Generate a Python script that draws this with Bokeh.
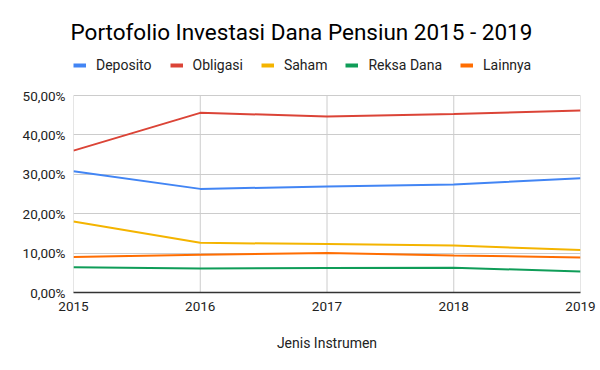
from bokeh.plotting import figure
from bokeh.models import (Range1d, FixedTicker, CustomJSTickFormatter, Legend, LegendItem, Title)
from bokeh.embed import file_html
from bokeh.resources import INLINE

years = [2015, 2016, 2017, 2018, 2019]
deposito = [30.8, 26.3, 26.9, 27.4, 29.0]
obligasi = [36.0, 45.6, 44.7, 45.3, 46.2]
saham = [18.0, 12.6, 12.3, 11.9, 10.8]
reksa_dana = [6.4, 6.1, 6.2, 6.3, 5.3]
lainnya = [9.0, 9.6, 10.0, 9.4, 8.9]
y_ticks = [0, 10, 20, 30, 40, 50]

series = [
    ("Deposito", deposito, "#4285F4"),
    ("Obligasi", obligasi, "#DB4437"),
    ("Saham", saham, "#F4B400"),
    ("Reksa Dana", reksa_dana, "#0F9D58"),
    ("Lainnya", lainnya, "#FF6D01"),
]

FONT = "Roboto"
NAN = float("nan")

# frame: top 57, bottom 292 (235 px); data 0..50 occupies the lower 197 px
FRAME_TOP, FRAME_BOTTOM, DATA_TOP = 57, 292, 95
y_end = y_ticks[-1] * (FRAME_BOTTOM - FRAME_TOP) / (FRAME_BOTTOM - DATA_TOP)

p = figure(width=600, height=370, output_backend="svg", toolbar_location=None,
           x_range=Range1d(years[0], years[-1]), y_range=Range1d(y_ticks[0], y_end),
           min_border_left=73, min_border_right=20, min_border_bottom=370 - FRAME_BOTTOM,
           min_border_top=FRAME_TOP, title=None)
p.outline_line_color = None
p.background_fill_color = "white"
p.border_fill_color = "white"

# vertical grid lines limited to the data area
p.segment(x0=years, y0=[y_ticks[0]] * len(years), x1=years, y1=[y_ticks[-1]] * len(years),
          line_color="#cccccc", line_width=1)

items = []
for name, vals, col in series:
    p.line(years, vals, line_color=col, line_width=2)
    # legend proxy (draws nothing on the plot) so the swatch can be thicker
    sw = p.line([NAN], [NAN], line_color=col, line_width=4)
    items.append(LegendItem(label=name, renderers=[sw]))

legend = Legend(items=items, orientation="horizontal", location="top_left",
                label_text_font=FONT, label_text_font_size="14px", label_text_color="#222222",
                glyph_width=13, glyph_height=16, label_standoff=10, spacing=18,
                padding=0, margin=0, border_line_color=None, background_fill_alpha=0)
p.add_layout(legend, "center")

title = Title(text="Portofolio Investasi Dana Pensiun 2015 - 2019", align="left",
              offset=-3, text_font=FONT, text_font_size="22.5px", text_font_style="normal",
              text_color="#000000", standoff=25)
p.add_layout(title, "above")

p.xaxis.ticker = FixedTicker(ticks=years)
p.yaxis.ticker = FixedTicker(ticks=y_ticks)
p.yaxis.formatter = CustomJSTickFormatter(code="return tick.toFixed(2).replace('.', ',') + '%';")
p.xaxis.formatter = CustomJSTickFormatter(code="return tick.toFixed(0);")

for ax in (p.xaxis, p.yaxis):
    ax.major_tick_in = 0
    ax.major_tick_out = 0
    ax.minor_tick_in = 0
    ax.minor_tick_out = 0
    ax.major_label_text_font = FONT
    ax.major_label_text_font_size = "13.5px"
    ax.major_label_text_color = "#222222"
p.xaxis.major_label_standoff = 9
p.yaxis.major_label_standoff = 8

p.yaxis.axis_line_color = None
p.xaxis.axis_line_color = "#333333"
p.xaxis.axis_line_width = 1.5
p.xaxis.axis_label = "Jenis Instrumen"
p.xaxis.axis_label_text_font = FONT
p.xaxis.axis_label_text_font_size = "14px"
p.xaxis.axis_label_text_font_style = "normal"
p.xaxis.axis_label_text_color = "#222222"
p.xaxis.axis_label_standoff = 21

p.xgrid.visible = False
p.ygrid.grid_line_color = "#cccccc"
p.ygrid.grid_line_width = 1

open("out.html", "w").write(file_html(p, INLINE))
